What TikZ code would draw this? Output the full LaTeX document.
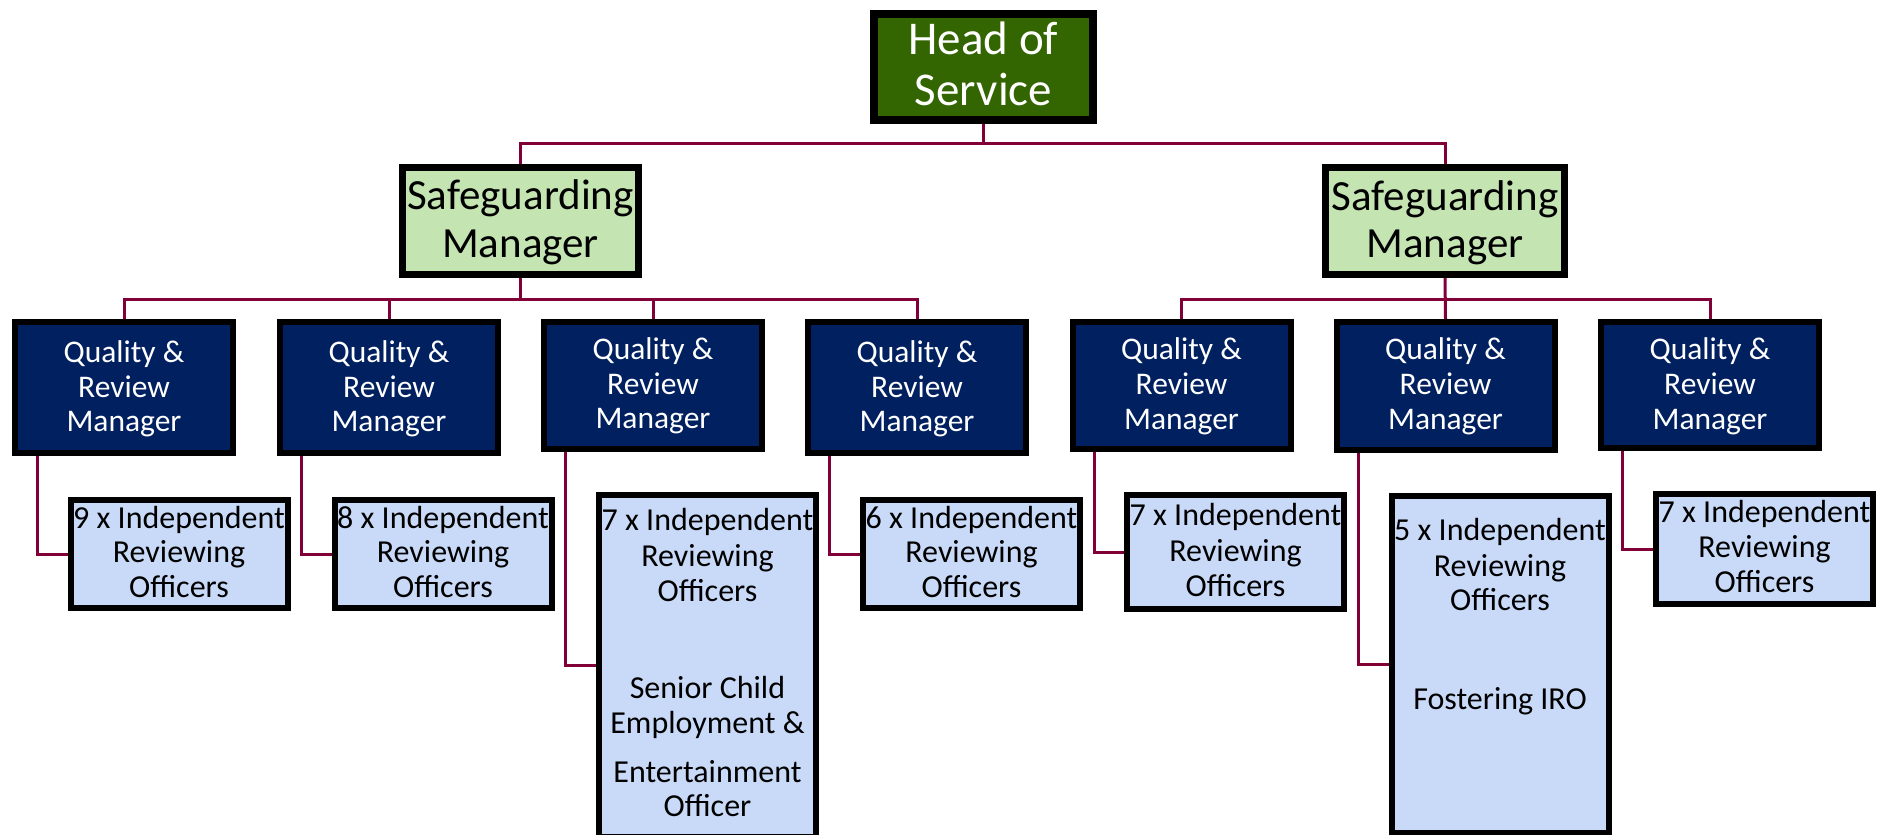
\documentclass[tikz,border=0pt]{standalone}
\usepackage{fontspec}
\setmainfont{Carlito}
\definecolor{headgreen}{RGB}{51,102,0}
\definecolor{smgreen}{RGB}{196,228,178}
\definecolor{qnavy}{RGB}{0,32,96}
\definecolor{iroblue}{RGB}{201,218,248}
\definecolor{conncol}{RGB}{128,0,55}
\begin{document}
\begin{tikzpicture}[x=1pt,y=-1pt,
  headbox/.style={draw=black,line width=8pt,fill=headgreen,inner sep=0pt,minimum width=219pt,minimum height=106pt},
  smbox/.style={draw=black,line width=7pt,fill=smgreen,inner sep=0pt,minimum height=107pt},
  qbox/.style={draw=black,line width=6pt,fill=qnavy,inner sep=0pt,minimum width=218pt},
  irobox/.style={draw=black,line width=6pt,fill=iroblue,inner sep=0pt,minimum width=217pt},
  txt/.style={inner sep=0pt,anchor=base},
  headtxt/.style={txt,text=white,font=\fontsize{47}{50}\selectfont},
  smtxt/.style={txt,text=black,font=\fontsize{43}{47}\selectfont},
  qtxt/.style={txt,text=white,font=\fontsize{31.5}{35}\selectfont},
  irotxt/.style={txt,text=black,font=\fontsize{32}{35}\selectfont},
  conn/.style={draw=conncol,line width=3pt}
]
\useasboundingbox[fill=white] (0,0) rectangle (1888,835);

% boxes
\node[headbox] (head) at (983.5,67) {};
\node[smbox,minimum width=236pt] (sm1) at (520.5,221) {};
\node[smbox,minimum width=239pt] (sm2) at (1445,221) {};

\node[qbox,minimum height=131pt] (q1) at (124,387.5) {};
\node[qbox,minimum height=131pt] (q2) at (389,387.5) {};
\node[qbox,minimum height=127pt] (q3) at (653,385.5) {};
\node[qbox,minimum height=131pt] (q4) at (917,387.5) {};
\node[qbox,minimum height=127pt] (q5) at (1181.5,385.5) {};
\node[qbox,minimum height=128pt] (q6) at (1445.5,386) {};
\node[qbox,minimum height=126pt] (q7) at (1710,385) {};

\node[irobox,minimum height=108pt] (i1) at (179,554) {};
\node[irobox,minimum height=108pt] (i2) at (443,554) {};
\node[irobox,minimum height=342pt] (i3) at (707.5,666) {};
\node[irobox,minimum height=108pt] (i4) at (971.5,554) {};
\node[irobox,minimum height=114pt] (i5) at (1235.5,552) {};
\node[irobox,minimum height=337pt] (i6) at (1500,664.5) {};
\node[irobox,minimum height=110pt] (i7) at (1764.5,549) {};

% connectors
\draw[conn] (head.south) -- (head.south |- 0,143) coordinate (topbar);
\draw[conn] (sm1.north) |- (sm2.north |- 0,143) -- (sm2.north);

\draw[conn] (sm1.south) -- (sm1.south |- 0,299);
\draw[conn] (q1.north) |- (q4.north |- 0,299) -- (q4.north);
\draw[conn] (q2.north) -- (q2.north |- 0,299);
\draw[conn] (q3.north) -- (q3.north |- 0,299);

\draw[conn] (sm2.south) -- (q6.north);
\draw[conn] (q5.north) |- (q7.north |- 0,299) -- (q7.north);

\draw[conn] (q1.south west) ++(25,0) |- (i1.west |- 0,554);
\draw[conn] (q2.south west) ++(24.5,0) |- (i2.west |- 0,554);
\draw[conn] (q3.south west) ++(24.5,0) |- (i3.west |- 0,665);
\draw[conn] (q4.south west) ++(24.5,0) |- (i4.west |- 0,554);
\draw[conn] (q5.south west) ++(24.5,0) |- (i5.west |- 0,552);
\draw[conn] (q6.south west) ++(24.5,0) |- (i6.west |- 0,664);
\draw[conn] (q7.south west) ++(24.5,0) |- (i7.west |- 0,549);

% texts
\node[headtxt] (h1) at (983.5,54) {Head of};
\node[headtxt] (h2) at (983.5,105) {Service};

\node[smtxt] (s1a) at (520.5,209) {Safeguarding};
\node[smtxt] (s1b) at (520.5,257) {Manager};
\node[smtxt] (s2a) at (1445,210) {Safeguarding};
\node[smtxt] (s2b) at (1445,257) {Manager};

\node[qtxt] (q1a) at (124,362) {Quality \&};
\node[qtxt] (q1b) at (124,397) {Review};
\node[qtxt] (q1c) at (124,431) {Manager};
\node[qtxt] (q2a) at (389,362) {Quality \&};
\node[qtxt] (q2b) at (389,397) {Review};
\node[qtxt] (q2c) at (389,431) {Manager};
\node[qtxt] (q3a) at (653,359) {Quality \&};
\node[qtxt] (q3b) at (653,394) {Review};
\node[qtxt] (q3c) at (653,428) {Manager};
\node[qtxt] (q4a) at (917,362) {Quality \&};
\node[qtxt] (q4b) at (917,397) {Review};
\node[qtxt] (q4c) at (917,431) {Manager};
\node[qtxt] (q5a) at (1181.5,359) {Quality \&};
\node[qtxt] (q5b) at (1181.5,394) {Review};
\node[qtxt] (q5c) at (1181.5,429) {Manager};
\node[qtxt] (q6a) at (1445.5,359) {Quality \&};
\node[qtxt] (q6b) at (1445.5,394) {Review};
\node[qtxt] (q6c) at (1445.5,429) {Manager};
\node[qtxt] (q7a) at (1710,359) {Quality \&};
\node[qtxt] (q7b) at (1710,394) {Review};
\node[qtxt] (q7c) at (1710,429) {Manager};

\node[irotxt] (i1a) at (179,528) {9 x Independent};
\node[irotxt] (i1b) at (179,562) {Reviewing};
\node[irotxt] (i1c) at (179,597) {Officers};
\node[irotxt] (i2a) at (443,528) {8 x Independent};
\node[irotxt] (i2b) at (443,562) {Reviewing};
\node[irotxt] (i2c) at (443,597) {Officers};
\node[irotxt] (i3a) at (707.5,530.5) {7 x Independent};
\node[irotxt] (i3b) at (707.5,566) {Reviewing};
\node[irotxt] (i3c) at (707.5,601) {Officers};
\node[irotxt] (i3d) at (707.5,698) {Senior Child};
\node[irotxt] (i3e) at (707.5,733) {Employment \&};
\node[irotxt] (i3f) at (707.5,782.5) {Entertainment};
\node[irotxt] (i3g) at (707.5,816.5) {Officer};
\node[irotxt] (i4a) at (971.5,528) {6 x Independent};
\node[irotxt] (i4b) at (971.5,562) {Reviewing};
\node[irotxt] (i4c) at (971.5,597) {Officers};
\node[irotxt] (i5a) at (1235.5,525) {7 x Independent};
\node[irotxt] (i5b) at (1235.5,561) {Reviewing};
\node[irotxt] (i5c) at (1235.5,596) {Officers};
\node[irotxt] (i6a) at (1500,540.5) {5 x Independent};
\node[irotxt] (i6b) at (1500,576) {Reviewing};
\node[irotxt] (i6c) at (1500,610.5) {Officers};
\node[irotxt] (i6d) at (1500,709) {Fostering IRO};
\node[irotxt] (i7a) at (1764.5,522) {7 x Independent};
\node[irotxt] (i7b) at (1764.5,557) {Reviewing};
\node[irotxt] (i7c) at (1764.5,592) {Officers};
\end{tikzpicture}
\end{document}
